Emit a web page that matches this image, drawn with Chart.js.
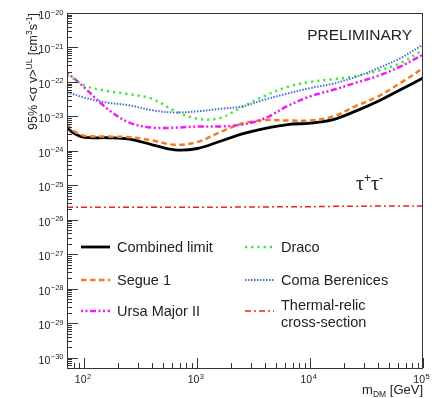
<!DOCTYPE html>
<html>
<head>
<meta charset="utf-8">
<script src="https://cdn.jsdelivr.net/npm/chart.js@4.4.0/dist/chart.umd.min.js"></script>
<style>
  body { margin: 0; background: #fff; }
  #wrap { width: 433px; height: 398px; }
</style>
</head>
<body>
<div id="wrap"><canvas id="limits" width="433" height="398"></canvas></div>
<script>
(function() {
  "use strict";

  // ── Upper limits on <σv> vs DM mass (τ+τ- channel) ──

  const massGeV = [70, 80, 100, 160, 250, 400, 630, 1000, 1600, 2500, 4000, 6300, 10000, 16000, 25000, 40000, 63000, 100000];

  const combinedLimit = [4.8e-24, 3.3e-24, 2.45e-24, 2.4e-24, 2.2e-24, 1.5e-24, 1.07e-24, 1.17e-24, 1.9e-24, 3.1e-24, 4.5e-24, 5.8e-24, 6.4e-24, 8.1e-24, 1.4e-23, 2.75e-23, 5.9e-23, 1.3e-22];
  const segue1        = [6.0e-24, 3.8e-24, 2.75e-24, 2.6e-24, 2.5e-24, 2.0e-24, 1.5e-24, 1.8e-24, 3.5e-24, 6.2e-24, 7.8e-24, 7.6e-24, 7.6e-24, 1.0e-23, 1.95e-23, 3.8e-23, 9.3e-23, 2.5e-22];
  const ursaMajorII   = [1.8e-22, 1.3e-22, 6.8e-23, 1.65e-23, 6.6e-24, 4.7e-24, 4.7e-24, 5.1e-24, 5.1e-24, 5.8e-24, 8.9e-24, 2.0e-23, 3.8e-23, 5.9e-23, 9.3e-23, 1.5e-22, 2.8e-22, 6.2e-22];
  const draco         = [1.55e-22, 1.25e-22, 7.8e-23, 5.4e-23, 4.4e-23, 3.2e-23, 1.45e-23, 8.5e-24, 9.0e-24, 1.9e-23, 4.0e-23, 7.2e-23, 1.0e-22, 1.2e-22, 1.45e-22, 2.1e-22, 3.5e-22, 8.5e-22];
  const comaBerenices = [4.8e-23, 4.4e-23, 3.5e-23, 2.5e-23, 2.1e-23, 1.5e-23, 1.3e-23, 1.4e-23, 1.66e-23, 1.95e-23, 3.1e-23, 4.6e-23, 6.6e-23, 8.9e-23, 1.38e-22, 2.5e-22, 4.9e-22, 1.2e-21];
  const thermalRelic  = [2.3e-26, 2.3e-26, 2.3e-26, 2.3e-26, 2.3e-26, 2.3e-26, 2.3e-26, 2.3e-26, 2.3e-26, 2.35e-26, 2.35e-26, 2.4e-26, 2.4e-26, 2.45e-26, 2.45e-26, 2.5e-26, 2.5e-26, 2.5e-26];

  // decade exponents that get a labelled major tick
  const xDecades = [2, 3, 4, 5];
  const yDecades = [-20, -21, -22, -23, -24, -25, -26, -27, -28, -29, -30];

  const FONT = "'Liberation Sans', Arial, sans-serif";
  const INK = '#222';

  function series(label, values, color, width, dash) {
    return {
      label,
      data: massGeV.map((m, i) => ({ x: m, y: values[i] })),
      borderColor: color,
      borderWidth: width,
      borderDash: dash,
      borderCapStyle: 'butt',
      pointRadius: 0,
      tension: 0.35,
      fill: false,
    };
  }

  const datasets = [
    series('Thermal-relic|cross-section', thermalRelic, '#e02626', 1.5, [6, 3, 2, 3]),
    series('Coma Berenices', comaBerenices, '#4a6fd4', 2, [1.5, 1.5]),
    series('Draco', draco, '#3ee83a', 2.5, [2.2, 4]),
    series('Ursa Major II', ursaMajorII, '#f01cf0', 2.5, [2, 2.5, 2, 2.5, 6, 2.5]),
    series('Segue 1', segue1, '#f47a22', 2.5, [5.5, 3.5]),
    series('Combined limit', combinedLimit, '#000000', 2.8, []),
  ];

  // legend slots: dataset index, column, row
  const legendSlots = [
    [5, 0, 0], [4, 0, 1], [3, 0, 2],
    [2, 1, 0], [1, 1, 1], [0, 1, 2],
  ];

  // ── Drawing helpers ──

  function drawPower(ctx, exp, x, y, mode) {
    const sup = String(exp).replace('-', '\u2212');
    ctx.font = `10.5px ${FONT}`;
    const wBase = ctx.measureText('10').width;
    ctx.font = `7.5px ${FONT}`;
    const wSup = ctx.measureText(sup).width;
    let left;
    if (mode === 'right') left = x - wBase - wSup;
    else left = x - wBase;
    ctx.textAlign = 'left';
    ctx.textBaseline = 'alphabetic';
    ctx.font = `10.5px ${FONT}`;
    ctx.fillText('10', left, y);
    ctx.font = `7.5px ${FONT}`;
    ctx.fillText(sup, left + wBase + 0.5, y - 4.5);
  }

  function drawRich(ctx, parts, x, y, align) {
    const widths = parts.map(p => { ctx.font = p.font; return ctx.measureText(p.t).width; });
    const total = widths.reduce((s, w) => s + w, 0);
    let cx = align === 'right' ? x - total : x;
    ctx.textAlign = 'left';
    ctx.textBaseline = 'alphabetic';
    parts.forEach((p, i) => {
      ctx.font = p.font;
      ctx.fillText(p.t, cx, y + (p.dy || 0));
      cx += widths[i];
    });
  }

  const frameAxes = {
    id: 'frameAxes',
    afterDraw(chart) {
      const { ctx, chartArea: a, scales: { x, y } } = chart;
      ctx.save();

      // frame
      ctx.strokeStyle = '#333';
      ctx.lineWidth = 1;
      ctx.setLineDash([]);
      ctx.strokeRect(a.left + 0.5, a.top + 0.5, a.right - a.left - 1, a.bottom - a.top);

      // ticks, pointing into the plot
      ctx.beginPath();
      for (let d = 1; d <= 5; d++) {
        for (let m = 1; m <= 9; m++) {
          const v = m * Math.pow(10, d);
          if (v < x.min || v > x.max) continue;
          const px = Math.round(x.getPixelForValue(v)) + 0.5;
          ctx.moveTo(px, a.bottom);
          ctx.lineTo(px, a.bottom - (m === 1 ? 10 : 5));
        }
      }
      for (let d = -31; d <= -20; d++) {
        for (let m = 1; m <= 9; m++) {
          const v = m * Math.pow(10, d);
          if (v < y.min || v > y.max) continue;
          const py = Math.round(y.getPixelForValue(v)) + 0.5;
          ctx.moveTo(a.left, py);
          ctx.lineTo(a.left + (m === 1 ? 11 : 5), py);
        }
      }
      ctx.stroke();

      // tick labels
      ctx.fillStyle = INK;
      xDecades.forEach(e => {
        const px = x.getPixelForValue(Math.pow(10, e));
        drawPower(ctx, e, px + 2, a.bottom + 15, 'split');
      });
      yDecades.forEach(e => {
        const py = y.getPixelForValue(Math.pow(10, e));
        drawPower(ctx, e, a.left - 4, py + 6, 'right');
      });

      // axis titles
      const big = `12.5px ${FONT}`, small = `8.5px ${FONT}`;
      drawRich(ctx, [
        { t: 'm', font: `13px ${FONT}` },
        { t: 'DM', font: `8.5px ${FONT}`, dy: 3 },
        { t: ' [GeV]', font: `13px ${FONT}` },
      ], a.right, a.bottom + 26, 'right');

      ctx.save();
      ctx.translate(37, a.top);
      ctx.rotate(-Math.PI / 2);
      drawRich(ctx, [
        { t: '95% <\u03c3 v>', font: big },
        { t: 'UL', font: small, dy: -5 },
        { t: ' [cm', font: big },
        { t: '3', font: small, dy: -5 },
        { t: 's', font: big },
        { t: '-1', font: small, dy: -5 },
        { t: ']', font: big },
      ], 0, 0, 'right');
      ctx.restore();

      // annotations
      ctx.textAlign = 'right';
      ctx.textBaseline = 'alphabetic';
      ctx.font = `15.5px ${FONT}`;
      ctx.fillText('PRELIMINARY', a.right - 11, a.top + 27);

      drawRich(ctx, [
        { t: '\u03c4', font: `20px 'Liberation Serif', serif` },
        { t: '+', font: `12px ${FONT}`, dy: -8 },
        { t: '\u03c4', font: `20px 'Liberation Serif', serif` },
        { t: '-', font: `12px ${FONT}`, dy: -8 },
      ], 356, 190, 'left');

      // legend
      const colX = [a.left + 14, a.left + 178];
      const rowY = [a.top + 234, a.top + 267, a.top + 298];
      legendSlots.forEach(([di, col, row]) => {
        const ds = chart.data.datasets[di];
        const lx = colX[col], ly = rowY[row];
        ctx.beginPath();
        ctx.strokeStyle = ds.borderColor;
        ctx.lineWidth = ds.borderWidth;
        ctx.setLineDash(ds.borderDash);
        ctx.moveTo(lx, ly);
        ctx.lineTo(lx + 29, ly);
        ctx.stroke();
        ctx.setLineDash([]);

        ctx.fillStyle = INK;
        ctx.font = `14.5px ${FONT}`;
        ctx.textAlign = 'left';
        ctx.textBaseline = 'middle';
        const lines = ds.label.split('|');
        if (lines.length === 1) {
          ctx.fillText(lines[0], lx + 36, ly + 1);
        } else {
          ctx.fillText(lines[0], lx + 36, ly - 5);
          ctx.fillText(lines[1], lx + 36, ly + 12);
        }
      });

      ctx.restore();
    }
  };

  new Chart(document.getElementById('limits'), {
    type: 'line',
    data: { datasets },
    options: {
      responsive: false,
      animation: false,
      layout: { padding: { left: 67, right: 10, top: 13, bottom: 30 } },
      plugins: { legend: { display: false }, tooltip: { enabled: false } },
      scales: {
        x: { type: 'logarithmic', min: 70, max: 1e5, display: false },
        y: { type: 'logarithmic', min: 5e-31, max: 1e-20, display: false },
      },
    },
    plugins: [frameAxes],
  });

})();
</script>
</body>
</html>
